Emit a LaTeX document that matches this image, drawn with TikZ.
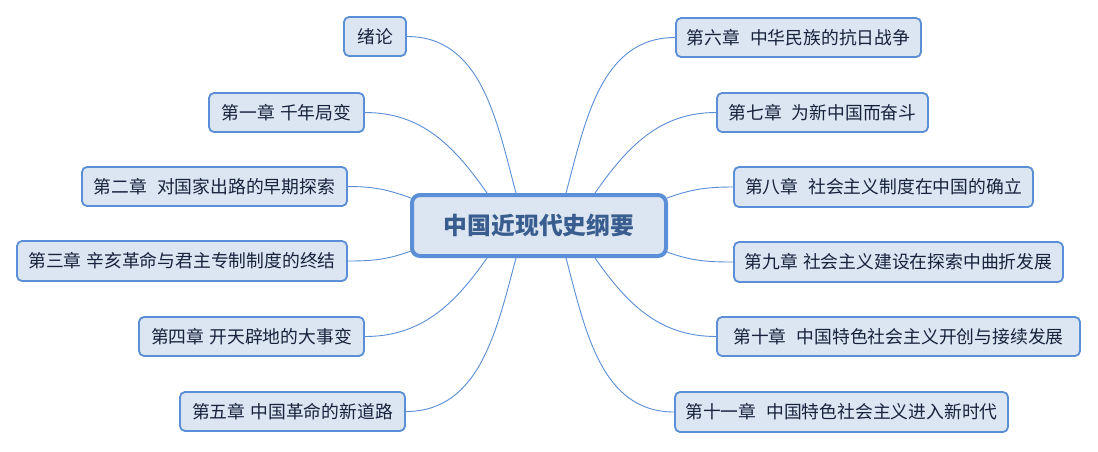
\documentclass[tikz,border=0pt]{standalone}
\usepackage{fontspec}
\newfontfamily\cjk{Noto Sans CJK SC}
\usetikzlibrary{calc}
\definecolor{boxfill}{HTML}{DCE6F2}
\definecolor{boxline}{HTML}{5A8ED6}
\definecolor{txt}{HTML}{17223D}
\definecolor{ctxt}{HTML}{395D8E}
\begin{document}
\begin{tikzpicture}[x=1pt,y=1pt,
  leaf/.style={draw=boxline, line width=1.8pt, fill=boxfill, rounded corners=5pt,
    inner sep=0pt, minimum height=39pt, font=\cjk\fontsize{17.8}{20}\selectfont, text=txt},
  root/.style={draw=boxline, line width=4pt, fill=boxfill, rounded corners=8pt,
    inner sep=0pt, font=\cjk\bfseries\fontsize{23.8}{26}\selectfont, text=ctxt},
  link/.style={draw=boxline, line width=0.9pt}]
\fill[white] (0,0) rectangle (1098,-451);
\useasboundingbox (0,0) rectangle (1098,-451);

\node[root, minimum width=254pt, minimum height=61pt] (root) at (539,-225.5) {中国近现代史纲要};

% left
\node[leaf, minimum width=62pt]  (n0) at (375,-36.5)  {绪论};
\node[leaf, minimum width=155pt] (n1) at (286.5,-112.5) {第一章\hspace{5pt}千年局变};
\node[leaf, minimum width=265pt] (n2) at (214.5,-186.5) {第二章\hspace{10pt}对国家出路的早期探索};
\node[leaf, minimum width=330pt, minimum height=40pt] (n3) at (182,-261) {第三章\hspace{5pt}辛亥革命与君主专制制度的终结};
\node[leaf, minimum width=225pt] (n4) at (251.5,-336.5) {第四章\hspace{5pt}开天辟地的大事变};
\node[leaf, minimum width=225pt] (n5) at (292.5,-411.5) {第五章\hspace{5pt}中国革命的新道路};
% right
\node[leaf, minimum width=245pt] (n6) at (798.5,-37.5) {第六章\hspace{10pt}中华民族的抗日战争};
\node[leaf, minimum width=211pt] (n7) at (822.5,-112.5) {第七章\hspace{10pt}为新中国而奋斗};
\node[leaf, minimum width=299pt, minimum height=40pt] (n8) at (883.5,-187) {第八章\hspace{10pt}社会主义制度在中国的确立};
\node[leaf, minimum width=329pt, minimum height=40pt] (n9) at (898.5,-262) {第九章\hspace{5pt}社会主义建设在探索中曲折发展};
\node[leaf, minimum width=363pt] (n10) at (898.5,-336.5) {第十章\hspace{10pt}中国特色社会主义开创与接续发展};
\node[leaf, minimum width=333pt, minimum height=40pt] (n11) at (841.5,-412) {第十一章\hspace{10pt}中国特色社会主义进入新时代};

% attachment points on the root
\coordinate (t1) at ($(root.north west)+(77,0)$);
\coordinate (t2) at ($(root.north west)+(106,0)$);
\coordinate (t3) at ($(root.north west)+(156,0)$);
\coordinate (t4) at ($(root.north west)+(185,0)$);
\coordinate (b1) at ($(root.south west)+(77,0)$);
\coordinate (b2) at ($(root.south west)+(106,0)$);
\coordinate (b3) at ($(root.south west)+(156,0)$);
\coordinate (b4) at ($(root.south west)+(185,0)$);
\coordinate (l1) at ($(root.north west)+(1,-5)$);
\coordinate (l2) at ($(root.south west)+(1,7)$);
\coordinate (r1) at ($(root.north east)+(-1,-5)$);
\coordinate (r2) at ($(root.south east)+(-1,6)$);

\draw[link] (n0.east) to[out=0, in=105] (t2);
\draw[link] (n1.east) to[out=0, in=125] (t1);
\draw[link] (n2.east) to[out=0, in=160] (l1);
\draw[link] (n3.east) to[out=0, in=200] (l2);
\draw[link] (n4.east) to[out=0, in=235] (b1);
\draw[link] (n5.east) to[out=0, in=255] (b2);
\draw[link] (n6.west) to[out=180, in=75] (t3);
\draw[link] (n7.west) to[out=180, in=55] (t4);
\draw[link] (n8.west) to[out=180, in=20] (r1);
\draw[link] (n9.west) to[out=180, in=-20] (r2);
\draw[link] (n10.west) to[out=180, in=-55] (b4);
\draw[link] (n11.west) to[out=180, in=-75] (b3);
\end{tikzpicture}
\end{document}
